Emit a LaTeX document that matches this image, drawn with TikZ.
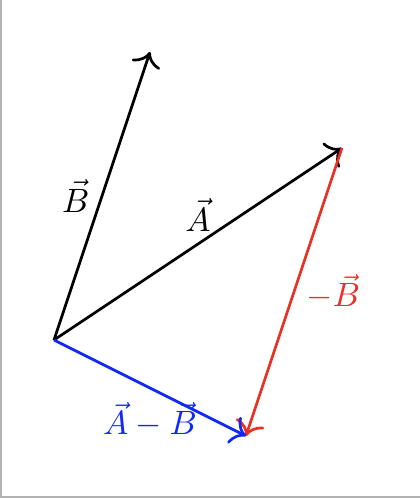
\documentclass[tikz,border=0pt]{standalone}
\usetikzlibrary{arrows.meta}
\definecolor{vred}{RGB}{232,48,38}
\definecolor{vblue}{RGB}{16,40,245}
\begin{document}
\begin{tikzpicture}[vec/.style={thick,-{To[scale=1.25]}}]
\useasboundingbox (-0.5625,-1.646) rectangle (3.8125,3.542);
\fill[white] (-0.5625,-1.646) rectangle (3.8125,3.542);
\fill[gray!60] (-0.5625,-1.646) rectangle (-0.545,3.542);
\fill[gray!60] (-0.5625,-1.646) rectangle (3.8125,-1.621);
\coordinate (O) at (0,0);
\coordinate (A) at (3,2);
\coordinate (B) at (1,3);
\coordinate (D) at (2,-1);
\draw[vec] (O) -- node[pos=0.5,left] {$\vec{B}$} (B);
\draw[vec] (O) -- node[pos=0.5,above] {$\vec{A}$} (A);
\draw[vec,vred] (A) -- node[pos=0.5,right] {$-\vec{B}$} (D);
\draw[vec,vblue] (O) -- node[pos=0.5,yshift=-0.333cm] {$\vec{A}-\vec{B}$} (D);
\end{tikzpicture}
\end{document}
